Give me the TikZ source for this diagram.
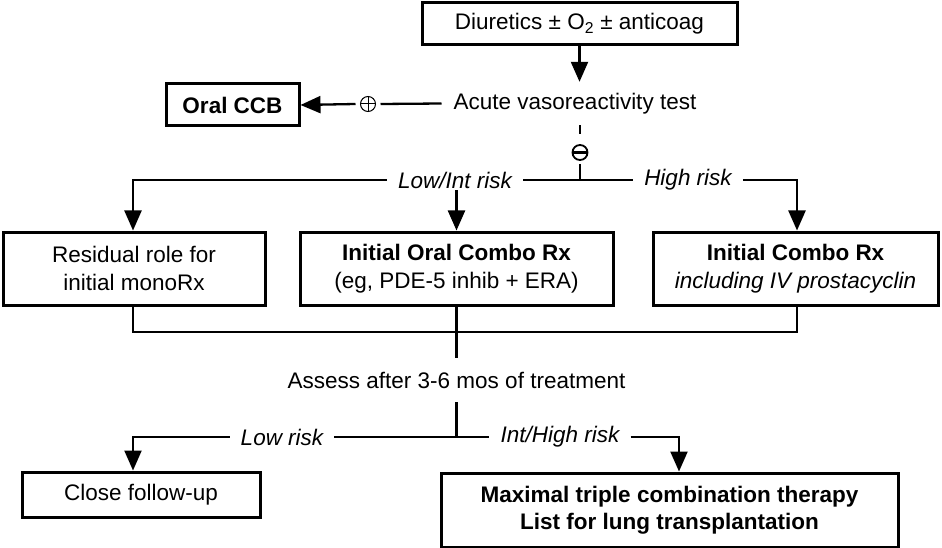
\documentclass[tikz,border=0pt]{standalone}
\usepackage{fontspec}
\setmainfont{Liberation Sans}
\usetikzlibrary{arrows.meta}
\begin{document}
\begin{tikzpicture}[x=1pt,y=-1pt,
  font=\fontsize{22.5}{27.5}\selectfont,
  box/.style={draw,line width=3pt,inner sep=0pt,align=center},
  lbl/.style={inner ysep=2pt,inner xsep=11pt},
  conn/.style={line width=2.3pt},
  arr/.style={conn,-{Triangle[width=17pt,length=20pt]}},
  plussym/.style={circle,draw,line width=1pt,minimum size=15pt,inner sep=0pt,outer sep=5pt,
    path picture={\draw[line width=1pt] (path picture bounding box.north) -- (path picture bounding box.south)
      (path picture bounding box.west) -- (path picture bounding box.east);}},
  minussym/.style={circle,draw,line width=1.8pt,minimum size=15pt,inner sep=0pt,outer sep=4pt,
    path picture={\draw[line width=3pt] (path picture bounding box.west) -- (path picture bounding box.east);}},
]
\useasboundingbox (0,0) rectangle (942,548);
\node[box,minimum width=315,minimum height=42] (top) at (579.5,24) {Diuretics ± O\textsubscript{2} ± anticoag};
\node[inner xsep=12pt,inner ysep=0pt,minimum height=43] (acute) at (575,103.5) {Acute vasoreactivity test};
\node[box,minimum width=133,minimum height=42] (ccb) at (232.5,105) {\bfseries Oral CCB};
\node[plussym] (plus) at (368,104) {};
\node[minussym] (minus) at (580,152.5) {};
\coordinate (j1) at (580,180);
\node[lbl] (lowint) at (455,180) {\itshape Low/Int risk};
\node[lbl] (high) at (688,180) {\itshape High risk};
\node[box,minimum width=262,minimum height=73] (b1) at (134,268.5) {Residual role for\\initial monoRx};
\node[box,minimum width=313,minimum height=73] (b2) at (456.5,268.5) {\bfseries Initial Oral Combo Rx\\(eg, PDE-5 inhib + ERA)};
\node[box,minimum width=285,minimum height=73] (b3) at (795.5,268.5) {\bfseries Initial Combo Rx\\\itshape including IV prostacyclin};
\coordinate (j2) at (456.5,332);
\node[inner xsep=2pt,inner ysep=0pt,minimum height=44] (assess) at (456.5,380) {Assess after 3-6 mos of treatment};
\coordinate (j3) at (456.5,437);
\node[lbl] (low) at (282,437) {\itshape Low risk};
\node[lbl] (inthigh) at (560,437) {\itshape Int/High risk};
\node[box,minimum width=238,minimum height=45] (close) at (141,494.5) {Close follow-up};
\node[box,minimum width=457,minimum height=74] (big) at (669.5,510) {\bfseries Maximal triple combination therapy\\\bfseries List for lung transplantation};
% connectors
\draw[arr] (top.south) -- (top.south |- acute.north);
\draw[conn] (acute.west) -- (plus.east);
\draw[arr] (plus.west) -- (ccb.east);
\draw[conn] (minus.north |- acute.south) -- ([yshift=7pt]minus.north);
\draw[conn] (minus.south) -- (j1);
\draw[conn] (j1) -- (lowint.east);
\draw[arr] (lowint.west) -| ([xshift=-1pt]b1.north);
\draw[conn] (j1) -- (high.west);
\draw[arr] (high.east) -| ([xshift=1.5pt]b3.north);
\draw[arr] (b2.north |- lowint.south) -- (b2.north);
\draw[conn] ([xshift=-1pt]b1.south) |- (j2);
\draw[conn] ([xshift=1.5pt]b3.south) |- (j2);
\draw[conn] (b2.south) -- (j2) -- (assess.north);
\draw[conn] (assess.south) -- (j3);
\draw[conn] (j3) -- (low.east);
\draw[arr] (low.west) -| ([xshift=-8pt]close.north);
\draw[conn] (j3) -- (inthigh.west);
\draw[arr] (inthigh.east) -| ([xshift=9.5pt]big.north);
\end{tikzpicture}
\end{document}
